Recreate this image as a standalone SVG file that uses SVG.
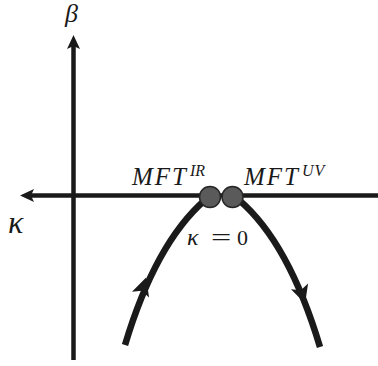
<svg xmlns="http://www.w3.org/2000/svg" width="378" height="366" viewBox="0 0 378 366">
<style>
.ax{stroke:#1a1a1a;stroke-width:4.5;fill:none}
.cv{stroke:#1a1a1a;stroke-width:6.5;fill:none}
.ah{fill:#1a1a1a}
.pt{fill:#5a5a5a;stroke:#262626;stroke-width:1.5}
.m{font-family:"Liberation Serif","Times New Roman",serif;font-style:italic;fill:#1a1a1a}
.r{font-family:"Liberation Serif","Times New Roman",serif;fill:#1a1a1a}
</style>
<rect width="378" height="366" fill="#ffffff"/>
<g id="connectors">
<line class="ax" x1="73.5" y1="360" x2="73.5" y2="44"/>
<polygon class="ah" points="73.5,35 67,49 73.5,46 80,49"/>
<line class="ax" x1="378" y1="195.5" x2="30" y2="195.5"/>
<polygon class="ah" points="20,195.5 34,189 31,195.5 34,202"/>
<path class="cv" d="M125,345 C140,295 165,235 205,200"/>
<polygon class="ah" transform="translate(143,287) rotate(-72)" points="10,0 -8,-9 -4,0 -8,9"/>
<path class="cv" d="M320,347 C305,297 280,235 239,200"/>
<polygon class="ah" transform="translate(302,294) rotate(72)" points="10,0 -8,-9 -4,0 -8,9"/>
</g>
<g id="node-ir">
<circle class="pt" cx="210" cy="197" r="10.5"/>
<text class="m" x="132" y="185" font-size="25" letter-spacing="2">MFT</text>
<text class="m" x="190" y="176" font-size="16">IR</text>
</g>
<g id="node-uv">
<circle class="pt" cx="232.5" cy="197" r="10.5"/>
<text class="m" x="244" y="185" font-size="25" letter-spacing="2">MFT</text>
<text class="m" x="302" y="176" font-size="16" letter-spacing="1">UV</text>
</g>
<g id="labels">
<text class="m" x="65" y="22" font-size="26">β</text>
<text class="m" x="8" y="233" font-size="32">κ</text>
<text class="m" x="187" y="245" font-size="24">κ</text>
<text class="r" transform="translate(211,245) scale(1.5,1)" font-size="24">=</text>
<text class="r" x="237" y="245" font-size="22">0</text>
</g>
</svg>
